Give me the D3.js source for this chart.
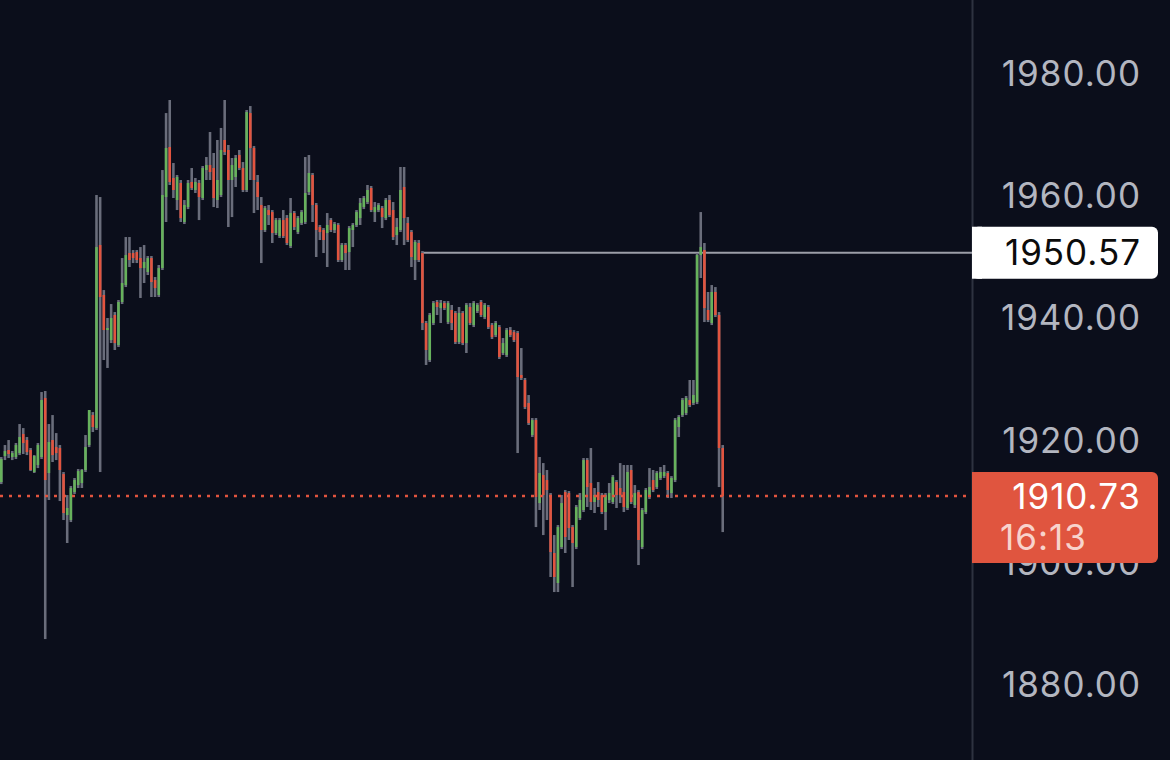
<!DOCTYPE html>
<html><head><meta charset="utf-8">
<script src="https://cdn.jsdelivr.net/npm/d3@7"></script>
<style>html,body{margin:0;padding:0;background:#0b0e1b;}svg{display:block;}</style>
</head><body><svg id="c" width="1170" height="760"></svg>
<script>
const openP = [1913.02,1917.28,1918.26,1917.12,1917.12,1917.77,1920.88,1919.90,1918.26,1914.66,
1915.81,1917.12,1926.78,1914.50,1919.90,1918.75,1918.59,1914.33,1907.62,1906.80,
1911.38,1912.53,1912.86,1914.99,1919.08,1923.99,1921.86,1951.83,1943.65,1937.91,
1936.27,1940.37,1935.45,1942.50,1945.28,1950.52,1950.52,1950.68,1949.70,1948.06,
1947.41,1949.70,1946.10,1943.65,1948.06,1959.69,1967.88,1962.81,1959.20,1961.99,
1955.60,1958.05,1962.15,1960.84,1961.99,1959.53,1964.11,1964.93,1964.44,1959.20,
1960.02,1969.03,1967.39,1962.48,1962.97,1966.57,1964.44,1960.84,1973.44,1967.72,
1962.15,1958.38,1954.29,1957.56,1957.23,1953.80,1953.30,1955.92,1956.25,1951.67,
1957.07,1953.96,1955.43,1955.60,1960.51,1963.30,1958.38,1954.78,1954.29,1953.80,
1955.92,1954.29,1955.11,1949.38,1951.83,1950.68,1954.29,1955.11,1956.25,1958.05,
1958.87,1961.17,1957.23,1957.56,1957.89,1956.25,1959.20,1957.56,1953.47,1954.29,
1961.33,1955.43,1953.96,1949.38,1952.16,1950.52,1939.06,1933.00,1939.06,1942.50,
1941.51,1942.33,1939.22,1941.19,1940.70,1935.95,1940.70,1935.78,1941.68,1938.73,
1941.02,1942.50,1940.04,1941.68,1938.73,1937.09,1938.40,1934.15,1933.82,1937.91,
1937.58,1937.42,1930.55,1929.73,1925.96,1920.72,1923.17,1909.58,1914.17,1913.35,
1910.89,1901.40,1896.49,1902.38,1911.38,1911.22,1905.65,1902.38,1907.13,1908.44,
1916.62,1912.86,1909.75,1911.38,1910.89,1908.11,1910.08,1909.75,1913.02,1912.04,
1911.38,1908.77,1914.99,1909.26,1911.38,1902.38,1908.11,1910.57,1913.35,1912.20,
1913.68,1914.00,1914.50,1911.22,1913.35,1922.03,1923.99,1924.32,1926.45,1925.96,
1926.12,1950.19,1951.01,1941.19,1939.06,1944.14,1940.37,1918.59];

const highP = [1917.12,1919.08,1919.90,1918.10,1919.41,1922.52,1921.86,1920.39,1918.59,1917.44,
1919.41,1927.76,1927.93,1922.52,1923.99,1921.04,1919.08,1914.66,1910.89,1912.37,
1913.68,1915.15,1915.15,1920.72,1924.81,1924.48,1960.02,1959.69,1944.46,1939.88,
1942.17,1940.86,1942.83,1949.70,1953.14,1953.14,1951.01,1951.01,1951.50,1951.83,
1950.03,1950.03,1946.59,1948.56,1964.11,1973.44,1975.58,1965.26,1963.30,1962.48,
1959.20,1962.48,1964.44,1962.81,1962.48,1964.77,1966.24,1970.34,1966.90,1969.03,
1971.00,1975.58,1968.21,1966.08,1966.57,1967.39,1965.42,1973.94,1974.59,1968.04,
1963.30,1959.69,1958.22,1958.38,1957.56,1956.25,1956.25,1957.56,1956.74,1959.53,
1957.40,1956.58,1957.56,1966.24,1966.57,1963.62,1958.71,1955.11,1954.61,1957.07,
1956.25,1955.60,1955.43,1952.16,1952.16,1954.94,1955.43,1957.56,1959.53,1959.86,
1961.66,1961.50,1958.87,1958.71,1958.22,1959.53,1960.02,1958.87,1956.25,1964.61,
1964.61,1956.41,1954.29,1952.65,1952.65,1950.85,1939.39,1940.70,1942.66,1942.83,
1942.83,1942.66,1942.66,1942.01,1941.02,1941.68,1941.02,1942.33,1942.33,1942.66,
1942.33,1942.83,1942.33,1942.01,1939.06,1939.39,1938.73,1936.60,1938.24,1938.40,
1937.91,1937.75,1934.96,1930.06,1927.27,1923.50,1923.50,1917.12,1916.13,1914.99,
1911.22,1904.34,1905.98,1910.89,1911.71,1911.55,1905.98,1909.26,1911.22,1916.95,
1916.95,1918.59,1912.04,1913.02,1911.22,1911.22,1912.86,1914.17,1913.35,1916.13,
1915.81,1915.81,1915.81,1912.53,1911.71,1908.77,1912.04,1915.31,1914.99,1914.82,
1915.48,1915.81,1914.82,1914.00,1923.50,1923.99,1926.78,1927.11,1929.73,1929.73,
1950.52,1957.23,1952.16,1944.14,1945.28,1944.95,1940.86,1919.08];

const lowP = [1912.69,1916.62,1916.95,1916.62,1916.79,1917.44,1917.61,1917.44,1914.82,1914.50,
1915.31,1916.79,1887.31,1910.08,1916.30,1916.62,1909.91,1906.80,1903.04,1906.47,
1911.06,1912.04,1912.04,1914.66,1918.75,1921.21,1921.54,1914.66,1933.00,1931.70,
1935.78,1934.64,1935.13,1942.17,1944.95,1948.23,1948.88,1948.88,1943.16,1945.61,
1946.92,1943.32,1943.32,1943.32,1947.74,1955.60,1961.66,1959.53,1957.56,1955.60,
1955.27,1957.72,1960.84,1960.35,1955.92,1959.20,1962.48,1962.48,1958.05,1957.89,
1959.69,1966.57,1954.78,1956.41,1961.33,1964.11,1960.51,1960.51,1962.48,1957.07,
1957.56,1948.88,1953.96,1955.11,1952.16,1953.47,1952.98,1952.98,1951.83,1951.34,
1954.29,1953.63,1955.11,1955.27,1960.02,1955.60,1949.87,1952.65,1950.52,1948.23,
1953.96,1953.80,1949.05,1949.05,1947.74,1947.74,1951.50,1954.78,1955.11,1957.72,
1958.54,1957.23,1955.60,1957.23,1954.61,1955.92,1956.41,1952.65,1951.83,1953.96,
1951.83,1952.32,1948.23,1946.10,1949.05,1937.91,1932.19,1932.68,1938.73,1940.37,
1939.06,1941.19,1938.89,1937.91,1935.62,1935.62,1935.45,1934.15,1938.73,1938.40,
1940.70,1940.04,1939.71,1938.08,1936.44,1936.76,1933.17,1933.82,1933.50,1936.76,
1935.95,1917.77,1929.73,1924.98,1922.36,1920.39,1905.65,1908.44,1904.34,1906.80,
1897.47,1895.01,1895.01,1902.05,1901.40,1903.53,1895.83,1902.05,1906.80,1908.11,
1908.93,1908.44,1907.95,1908.93,1907.78,1905.16,1909.58,1909.42,1908.77,1909.58,
1908.11,1908.44,1909.42,1908.77,1899.43,1902.05,1907.78,1910.24,1911.38,1911.88,
1913.35,1913.68,1910.40,1910.40,1913.02,1920.39,1923.67,1923.99,1925.30,1925.63,
1925.79,1946.43,1939.22,1939.22,1938.73,1940.04,1912.20,1904.83];

const closeP = [1916.79,1918.10,1917.61,1917.77,1919.08,1920.39,1919.41,1917.93,1914.99,1917.28,
1919.08,1926.45,1913.35,1919.57,1917.44,1917.77,1914.99,1907.95,1908.77,1912.04,
1913.35,1914.82,1914.99,1918.75,1924.81,1922.03,1951.50,1943.32,1937.91,1938.24,
1939.88,1935.78,1942.50,1945.61,1950.19,1949.38,1949.70,1949.38,1948.06,1949.05,
1949.70,1945.77,1944.79,1948.06,1960.02,1967.72,1962.15,1960.84,1962.97,1956.25,
1958.38,1961.99,1961.17,1962.15,1959.69,1964.44,1964.93,1963.79,1959.53,1962.48,
1967.39,1967.06,1962.48,1964.93,1966.08,1964.44,1960.84,1973.61,1967.72,1962.48,
1959.69,1954.29,1957.89,1956.74,1953.80,1955.92,1955.92,1953.30,1952.16,1957.07,
1954.78,1956.25,1957.23,1960.35,1963.62,1958.38,1954.29,1953.96,1952.65,1955.11,
1954.29,1955.27,1949.38,1951.83,1950.52,1954.61,1955.11,1957.23,1958.71,1959.53,
1960.84,1957.56,1958.05,1958.38,1956.41,1959.20,1956.74,1953.14,1954.78,1960.84,
1956.25,1952.65,1949.87,1952.32,1949.38,1939.06,1934.64,1940.37,1942.33,1941.68,
1942.33,1941.51,1942.33,1939.06,1935.95,1940.70,1935.78,1942.01,1939.06,1942.33,
1942.01,1940.37,1942.01,1938.40,1936.76,1939.06,1933.50,1935.78,1937.91,1937.09,
1936.27,1930.22,1930.06,1925.30,1922.68,1923.17,1910.57,1914.50,1910.89,1911.71,
1901.56,1897.47,1905.65,1909.58,1904.02,1905.49,1903.04,1908.93,1910.08,1916.62,
1912.20,1909.75,1910.89,1910.08,1908.11,1910.89,1911.22,1913.84,1910.89,1910.89,
1908.93,1914.66,1909.75,1911.22,1903.53,1908.44,1911.71,1912.20,1911.71,1914.50,
1914.66,1914.66,1911.71,1913.68,1923.17,1923.67,1926.45,1926.78,1925.63,1927.27,
1950.19,1951.50,1941.51,1939.55,1944.14,1940.37,1918.59,1910.73];

const tickValues = [1880, 1900, 1920, 1940, 1960, 1980];
const levelPrice = 1950.57;
const levelStartIndex = 115;
const lastPrice = 1910.73;
const countdownLabel = "16:13";

const W = 1170, H = 760, axisX = 972;
const FONT = "Inter, 'Noto Sans', sans-serif", FS = 35, LS = 1;
const svg = d3.select("#c");
svg.append("rect").attr("width", W).attr("height", H).attr("fill", "#0b0e1b");

const idx = d3.range(openP.length);
const x = d3.scaleBand().domain(idx).range([0, 724]).paddingInner(0.3).paddingOuter(0);
const y = d3.scaleLinear().domain([1880, 1980]).range([683.7, 73.0]);

const GREEN = "#67b25c", RED = "#e2543f", WICK = "#6a6d7b";

// axis separator
svg.append("line").attr("x1", axisX + 0.5).attr("x2", axisX + 0.5).attr("y1", 0).attr("y2", H)
  .attr("stroke", "#2e3240").attr("stroke-width", 2);

// tick labels (drawn first so price boxes cover them)
const axis = svg.append("g").attr("transform", `translate(${1141},0)`)
  .call(d3.axisRight(y).tickValues(tickValues).tickFormat(d3.format(".2f")).tickSize(0).tickPadding(0));
axis.select(".domain").remove();
axis.selectAll("text")
  .attr("text-anchor", "end").attr("x", 0)
  .attr("fill", "#b3b6c0").attr("font-family", FONT)
  .attr("font-size", FS).attr("letter-spacing", LS).attr("dy", "0.36em");

const plot = svg.append("g");
// level line
plot.append("line")
  .attr("x1", x(levelStartIndex) + x.bandwidth() / 2).attr("x2", axisX)
  .attr("y1", y(levelPrice)).attr("y2", y(levelPrice))
  .attr("stroke", "#9c9ea8").attr("stroke-width", 2);

// candles
const c = plot.selectAll("g.candle").data(idx).join("g").attr("class", "candle");
c.append("rect")
  .attr("x", i => x(i)).attr("width", x.bandwidth())
  .attr("y", i => y(highP[i])).attr("height", i => Math.max(1, y(lowP[i]) - y(highP[i])))
  .attr("fill", WICK);
c.append("rect")
  .attr("x", i => x(i)).attr("width", x.bandwidth())
  .attr("y", i => y(Math.max(openP[i], closeP[i])))
  .attr("height", i => Math.max(1.5, Math.abs(y(openP[i]) - y(closeP[i]))))
  .attr("fill", i => closeP[i] >= openP[i] ? GREEN : RED);

// last price dotted line
plot.append("line")
  .attr("x1", 0).attr("x2", axisX).attr("y1", y(lastPrice)).attr("y2", y(lastPrice))
  .attr("stroke", RED).attr("stroke-width", 2.5).attr("stroke-dasharray", "3,6");

// level price box
const lvY = y(levelPrice);
svg.append("rect").attr("x", axisX).attr("y", lvY - 26).attr("width", 186).attr("height", 52)
  .attr("rx", 6).attr("fill", "#ffffff");
svg.append("rect").attr("x", axisX).attr("y", lvY - 26).attr("width", 10).attr("height", 52).attr("fill", "#ffffff");
svg.append("text").attr("x", 1141).attr("y", lvY).attr("dy", "0.36em").attr("text-anchor", "end")
  .attr("font-family", FONT).attr("font-size", FS).attr("letter-spacing", LS).attr("fill", "#0b0b0b")
  .text(d3.format(".2f")(levelPrice));

// last price box
const lpY = y(lastPrice);
svg.append("rect").attr("x", axisX).attr("y", lpY - 24).attr("width", 186).attr("height", 91)
  .attr("rx", 6).attr("fill", "#e0553f");
svg.append("rect").attr("x", axisX).attr("y", lpY - 24).attr("width", 10).attr("height", 91).attr("fill", "#e0553f");
svg.append("text").attr("x", 1141).attr("y", lpY).attr("dy", "0.36em").attr("text-anchor", "end")
  .attr("font-family", FONT).attr("font-size", FS).attr("letter-spacing", LS).attr("fill", "#ffffff")
  .text(d3.format(".2f")(lastPrice));
svg.append("text").attr("x", 1000).attr("y", lpY + 41).attr("dy", "0.36em").attr("text-anchor", "start")
  .attr("font-family", FONT).attr("font-size", FS).attr("letter-spacing", LS).attr("fill", "#f8d3cc")
  .text(countdownLabel);
</script></body></html>
